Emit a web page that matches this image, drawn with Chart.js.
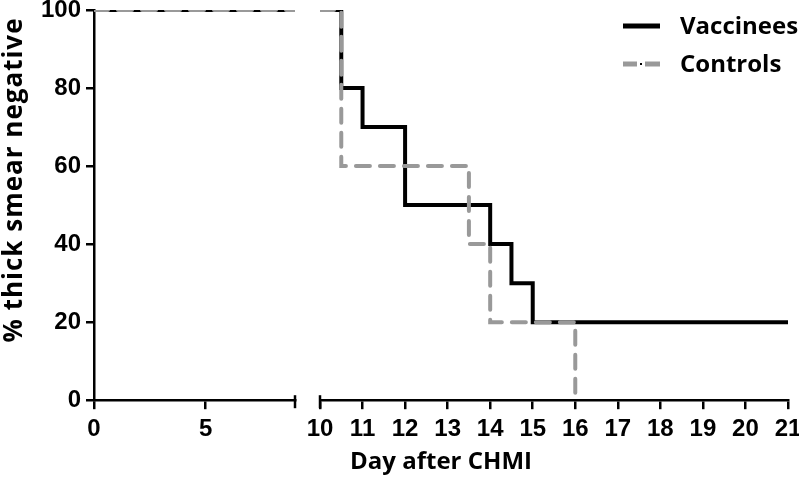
<!DOCTYPE html>
<html lang="en">
<head>
<meta charset="UTF-8">
<title>Thick smear negative after CHMI</title>
<script src="https://cdn.jsdelivr.net/npm/chart.js"></script>
<style>
  html, body { margin: 0; padding: 0; background: #fff; }
  #wrap { width: 799px; height: 482px; }
</style>
</head>
<body>
<div id="wrap"><canvas id="kmChart"></canvas></div>
<script>
// Kaplan-Meier steps: day of each drop and % still negative after it
const vaccineeDays = [0, 10.5, 11, 12, 14, 14.5, 15, 21];
const vaccineePct  = [100, 80, 70, 50, 40, 30, 20, 20];
const controlDays  = [0, 10.5, 13.5, 14, 16];
const controlPct   = [100, 60, 40, 20, 0];

// broken x axis: 0..9, then 10..21
const leftRange  = [0, 9];
const rightRange = [10, 21];
const leftTicks  = [0, 5];
const pctTicks   = [0, 20, 40, 60, 80, 100];
const groupNames = ['Vaccinees', 'Controls'];
const xTitle = 'Day after CHMI';
const yTitle = '% thick smear negative';

const tickFont = { family: 'Liberation Sans', size: 24, weight: 'bold' };
const labelFont = 'bold 24px "Open Sans"';
const grey = '#999999';

// keep the part of a step curve that falls inside one axis segment
function segment(days, pct, lo, hi) {
    let start = pct[0];
    for (let i = 0; i < days.length; i++) {
        if (days[i] <= lo) start = pct[i];
    }
    const pts = [{ x: lo, y: start }];
    for (let i = 0; i < days.length; i++) {
        if (days[i] > lo && days[i] <= hi) pts.push({ x: days[i], y: pct[i] });
    }
    const end = pts[pts.length - 1];
    if (end.x < hi && days[days.length - 1] > hi) pts.push({ x: hi, y: end.y });
    return pts;
}

function line(label, pts, axis, color, dash, order) {
    return {
        label: label,
        data: pts,
        xAxisID: axis,
        yAxisID: 'y',
        borderColor: color,
        borderWidth: 4,
        borderDash: dash,
        borderCapStyle: 'round',
        stepped: 'before',   // horizontal first, then the drop
        pointRadius: 0,
        fill: false,
        order: order
    };
}

const datasets = [
    line(groupNames[0], segment(vaccineeDays, vaccineePct, leftRange[0], leftRange[1]), 'xLeft', '#000', [], 1),
    line(groupNames[0], segment(vaccineeDays, vaccineePct, rightRange[0], rightRange[1]), 'xRight', '#000', [], 1),
    line(groupNames[1], segment(controlDays, controlPct, leftRange[0], leftRange[1]), 'xLeft', grey, [14, 10], 0),
    line(groupNames[1], segment(controlDays, controlPct, rightRange[0], rightRange[1]), 'xRight', grey, [14, 10], 0)
];

function fitX(s) {
    s.height = 48;
    s.paddingLeft = 0;
    s.paddingRight = 0;
}

const xCommon = {
    type: 'linear',
    axis: 'x',
    position: 'bottom',
    stack: 'days',
    border: { color: '#000', width: 2.5 },
    grid: { drawOnChartArea: false, color: '#000', lineWidth: 2.5, tickLength: 9 },
    ticks: { color: '#000', font: tickFont, padding: 6, maxRotation: 0, minRotation: 0, autoSkip: false },
    afterFit: fitX
};

// axis break caps, y title and legend
const extras = {
    id: 'extras',
    afterDraw(chart) {
        const ctx = chart.ctx;
        const area = chart.chartArea;
        ctx.save();
        ctx.strokeStyle = '#000';
        ctx.lineWidth = 2.5;
        const caps = [chart.scales.xLeft.getPixelForValue(leftRange[1]), chart.scales.xRight.getPixelForValue(rightRange[0])];
        caps.forEach(px => {
            ctx.beginPath();
            ctx.moveTo(px, area.bottom - 5);
            ctx.lineTo(px, area.bottom + 8);
            ctx.stroke();
        });

        ctx.fillStyle = '#000';
        ctx.textBaseline = 'middle';

        ctx.save();
        ctx.translate(15, 180);
        ctx.rotate(-Math.PI / 2);
        ctx.font = 'bold 26px "Open Sans"';
        ctx.letterSpacing = '1px';
        ctx.textAlign = 'center';
        ctx.fillText(yTitle, 0, 0);
        ctx.restore();

        // legend
        ctx.font = labelFont;
        ctx.textAlign = 'left';
        ctx.lineWidth = 5;
        ctx.lineCap = 'butt';
        ctx.beginPath();
        ctx.moveTo(623, 26);
        ctx.lineTo(660, 26);
        ctx.stroke();
        ctx.fillText(groupNames[0], 680, 27);

        ctx.strokeStyle = grey;
        ctx.beginPath();
        ctx.moveTo(623, 64); ctx.lineTo(637, 64);
        ctx.moveTo(645, 64); ctx.lineTo(660, 64);
        ctx.stroke();
        ctx.fillRect(640, 63, 2, 2);
        ctx.fillText(groupNames[1], 680, 65);
        ctx.restore();
    }
};

new Chart(document.getElementById('kmChart'), {
    type: 'line',
    data: { datasets: datasets },
    options: {
        responsive: true,
        maintainAspectRatio: false,
        animation: false,
        layout: { padding: { top: 10, right: 11, left: 0, bottom: 0 } },
        plugins: {
            legend: { display: false },
            tooltip: { enabled: false },
            title: {
                display: true,
                position: 'bottom',
                fullSize: false,
                text: xTitle,
                color: '#000',
                font: { family: 'Open Sans', size: 24, weight: 'bold' },
                padding: { top: 0, bottom: 5 }
            }
        },
        scales: {
            xLeft: Object.assign({}, xCommon, {
                stackWeight: 201,
                min: leftRange[0],
                max: leftRange[1],
                afterBuildTicks: s => { s.ticks = leftTicks.map(v => ({ value: v })); }
            }),
            xGap: {
                type: 'linear',
                axis: 'x',
                position: 'bottom',
                stack: 'days',
                stackWeight: 25,
                min: 0,
                max: 1,
                ticks: { display: false },
                grid: { display: false },
                border: { display: false },
                afterFit: fitX
            },
            xRight: Object.assign({}, xCommon, {
                stackWeight: 468,
                min: rightRange[0],
                max: rightRange[1],
                ticks: Object.assign({}, xCommon.ticks, { stepSize: 1 })
            }),
            y: {
                min: 0,
                max: 100,
                afterBuildTicks: s => { s.ticks = pctTicks.map(v => ({ value: v })); },
                border: { color: '#000', width: 2.5 },
                grid: { drawOnChartArea: false, color: '#000', lineWidth: 2.5, tickLength: 8 },
                ticks: { color: '#000', font: tickFont, padding: 5 },
                afterFit: s => { s.width = 94; s.paddingTop = 0; s.paddingBottom = 0; }
            }
        }
    },
    plugins: [extras]
});
</script>
</body>
</html>
